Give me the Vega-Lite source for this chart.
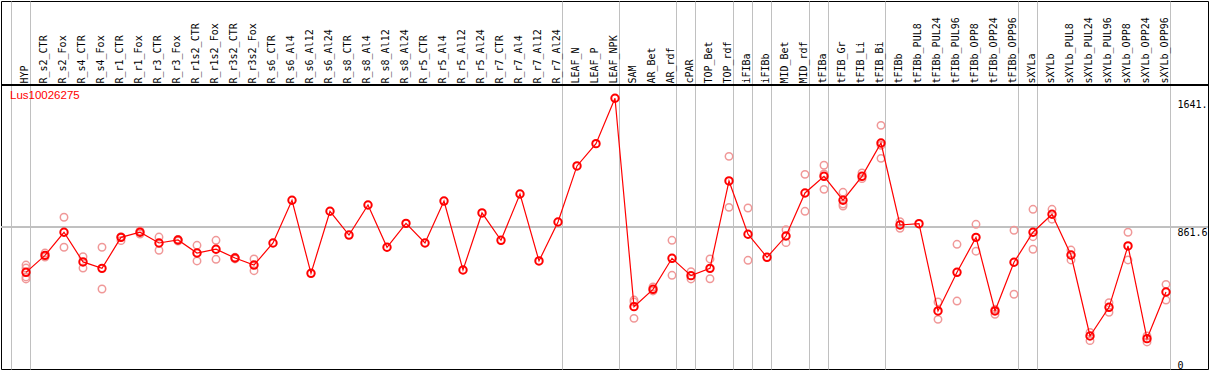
{
  "$schema": "https://vega.github.io/schema/vega-lite/v6.json",
  "width": 1207,
  "height": 368,
  "autosize": "none",
  "padding": {"left": 1, "top": 1, "right": 1, "bottom": 1},
  "background": "white",
  "config": {"view": {"stroke": "black", "strokeWidth": 1}, "font": "DejaVu Sans Mono"},
  "title": {"text": "Lus10026275", "anchor": "start", "frame": "group", "offset": -100, "dx": 9, "color": "#ff0000", "font": "Liberation Sans", "fontSize": 11.5, "fontWeight": "normal"},
  "data": {"values": [
    {"cat": "HYP", "kind": "mean", "value": 586},
    {"cat": "R_s2_CTR", "kind": "mean", "value": 689},
    {"cat": "R_s2_Fox", "kind": "mean", "value": 829},
    {"cat": "R_s4_CTR", "kind": "mean", "value": 649},
    {"cat": "R_s4_Fox", "kind": "mean", "value": 610},
    {"cat": "R_r1_CTR", "kind": "mean", "value": 798},
    {"cat": "R_r1_Fox", "kind": "mean", "value": 829},
    {"cat": "R_r3_CTR", "kind": "mean", "value": 764},
    {"cat": "R_r3_Fox", "kind": "mean", "value": 782},
    {"cat": "R_r1s2_CTR", "kind": "mean", "value": 703},
    {"cat": "R_r1s2_Fox", "kind": "mean", "value": 726},
    {"cat": "R_r3s2_CTR", "kind": "mean", "value": 673},
    {"cat": "R_r3s2_Fox", "kind": "mean", "value": 630},
    {"cat": "R_s6_CTR", "kind": "mean", "value": 764},
    {"cat": "R_s6_Al4", "kind": "mean", "value": 1023},
    {"cat": "R_s6_Al12", "kind": "mean", "value": 580},
    {"cat": "R_s6_Al24", "kind": "mean", "value": 956},
    {"cat": "R_s8_CTR", "kind": "mean", "value": 812},
    {"cat": "R_s8_Al4", "kind": "mean", "value": 994},
    {"cat": "R_s8_Al12", "kind": "mean", "value": 738},
    {"cat": "R_s8_Al24", "kind": "mean", "value": 883},
    {"cat": "R_r5_CTR", "kind": "mean", "value": 764},
    {"cat": "R_r5_Al4", "kind": "mean", "value": 1018},
    {"cat": "R_r5_Al12", "kind": "mean", "value": 600},
    {"cat": "R_r5_Al24", "kind": "mean", "value": 946},
    {"cat": "R_r7_CTR", "kind": "mean", "value": 780},
    {"cat": "R_r7_Al4", "kind": "mean", "value": 1061},
    {"cat": "R_r7_Al12", "kind": "mean", "value": 655},
    {"cat": "R_r7_Al24", "kind": "mean", "value": 891},
    {"cat": "LEAF_N", "kind": "mean", "value": 1231},
    {"cat": "LEAF_P", "kind": "mean", "value": 1366},
    {"cat": "LEAF_NPK", "kind": "mean", "value": 1641},
    {"cat": "SAM", "kind": "mean", "value": 378},
    {"cat": "AR_Bet", "kind": "mean", "value": 483},
    {"cat": "AR_rdf", "kind": "mean", "value": 671},
    {"cat": "cPAR", "kind": "mean", "value": 566},
    {"cat": "TOP_Bet", "kind": "mean", "value": 610},
    {"cat": "TOP_rdf", "kind": "mean", "value": 1140},
    {"cat": "iFIBa", "kind": "mean", "value": 817},
    {"cat": "iFIBb", "kind": "mean", "value": 677},
    {"cat": "MID_Bet", "kind": "mean", "value": 806},
    {"cat": "MID_rdf", "kind": "mean", "value": 1067},
    {"cat": "tFIBa", "kind": "mean", "value": 1168},
    {"cat": "tFIB_Gr", "kind": "mean", "value": 1023},
    {"cat": "tFIB_Li", "kind": "mean", "value": 1168},
    {"cat": "tFIB_Bi", "kind": "mean", "value": 1370},
    {"cat": "tFIBb", "kind": "mean", "value": 873},
    {"cat": "tFIBb_PUL8", "kind": "mean", "value": 881},
    {"cat": "tFIBb_PUL24", "kind": "mean", "value": 352},
    {"cat": "tFIBb_PUL96", "kind": "mean", "value": 586},
    {"cat": "tFIBb_OPP8", "kind": "mean", "value": 798},
    {"cat": "tFIBb_OPP24", "kind": "mean", "value": 352},
    {"cat": "tFIBb_OPP96", "kind": "mean", "value": 647},
    {"cat": "sXYLa", "kind": "mean", "value": 829},
    {"cat": "sXYLb", "kind": "mean", "value": 938},
    {"cat": "sXYLb_PUL8", "kind": "mean", "value": 691},
    {"cat": "sXYLb_PUL24", "kind": "mean", "value": 200},
    {"cat": "sXYLb_PUL96", "kind": "mean", "value": 374},
    {"cat": "sXYLb_OPP8", "kind": "mean", "value": 746},
    {"cat": "sXYLb_OPP24", "kind": "mean", "value": 184},
    {"cat": "sXYLb_OPP96", "kind": "mean", "value": 467},
    {"cat": "HYP", "kind": "rep", "value": 630},
    {"cat": "HYP", "kind": "rep", "value": 612},
    {"cat": "HYP", "kind": "rep", "value": 558},
    {"cat": "HYP", "kind": "rep", "value": 546},
    {"cat": "R_s2_CTR", "kind": "rep", "value": 703},
    {"cat": "R_s2_CTR", "kind": "rep", "value": 679},
    {"cat": "R_s2_Fox", "kind": "rep", "value": 920},
    {"cat": "R_s2_Fox", "kind": "rep", "value": 738},
    {"cat": "R_s4_CTR", "kind": "rep", "value": 681},
    {"cat": "R_s4_CTR", "kind": "rep", "value": 612},
    {"cat": "R_s4_Fox", "kind": "rep", "value": 738},
    {"cat": "R_s4_Fox", "kind": "rep", "value": 485},
    {"cat": "R_r1_CTR", "kind": "rep", "value": 802},
    {"cat": "R_r1_CTR", "kind": "rep", "value": 778},
    {"cat": "R_r1_Fox", "kind": "rep", "value": 837},
    {"cat": "R_r1_Fox", "kind": "rep", "value": 818},
    {"cat": "R_r3_CTR", "kind": "rep", "value": 800},
    {"cat": "R_r3_CTR", "kind": "rep", "value": 720},
    {"cat": "R_r3_Fox", "kind": "rep", "value": 786},
    {"cat": "R_r3_Fox", "kind": "rep", "value": 776},
    {"cat": "R_r1s2_CTR", "kind": "rep", "value": 750},
    {"cat": "R_r1s2_CTR", "kind": "rep", "value": 655},
    {"cat": "R_r1s2_Fox", "kind": "rep", "value": 780},
    {"cat": "R_r1s2_Fox", "kind": "rep", "value": 665},
    {"cat": "R_r3s2_CTR", "kind": "rep", "value": 677},
    {"cat": "R_r3s2_CTR", "kind": "rep", "value": 667},
    {"cat": "R_r3s2_Fox", "kind": "rep", "value": 667},
    {"cat": "R_r3s2_Fox", "kind": "rep", "value": 596},
    {"cat": "SAM", "kind": "rep", "value": 418},
    {"cat": "SAM", "kind": "rep", "value": 406},
    {"cat": "SAM", "kind": "rep", "value": 307},
    {"cat": "AR_Bet", "kind": "rep", "value": 497},
    {"cat": "AR_Bet", "kind": "rep", "value": 473},
    {"cat": "AR_rdf", "kind": "rep", "value": 780},
    {"cat": "AR_rdf", "kind": "rep", "value": 568},
    {"cat": "cPAR", "kind": "rep", "value": 590},
    {"cat": "cPAR", "kind": "rep", "value": 546},
    {"cat": "TOP_Bet", "kind": "rep", "value": 667},
    {"cat": "TOP_Bet", "kind": "rep", "value": 547},
    {"cat": "TOP_rdf", "kind": "rep", "value": 1289},
    {"cat": "TOP_rdf", "kind": "rep", "value": 980},
    {"cat": "iFIBa", "kind": "rep", "value": 976},
    {"cat": "iFIBa", "kind": "rep", "value": 659},
    {"cat": "MID_Bet", "kind": "rep", "value": 844},
    {"cat": "MID_Bet", "kind": "rep", "value": 766},
    {"cat": "MID_rdf", "kind": "rep", "value": 1180},
    {"cat": "MID_rdf", "kind": "rep", "value": 956},
    {"cat": "tFIBa", "kind": "rep", "value": 1235},
    {"cat": "tFIBa", "kind": "rep", "value": 1182},
    {"cat": "tFIBa", "kind": "rep", "value": 1089},
    {"cat": "tFIB_Gr", "kind": "rep", "value": 1071},
    {"cat": "tFIB_Gr", "kind": "rep", "value": 1000},
    {"cat": "tFIB_Gr", "kind": "rep", "value": 988},
    {"cat": "tFIB_Li", "kind": "rep", "value": 1188},
    {"cat": "tFIB_Li", "kind": "rep", "value": 1154},
    {"cat": "tFIB_Bi", "kind": "rep", "value": 1477},
    {"cat": "tFIB_Bi", "kind": "rep", "value": 1356},
    {"cat": "tFIB_Bi", "kind": "rep", "value": 1277},
    {"cat": "tFIBb", "kind": "rep", "value": 893},
    {"cat": "tFIBb", "kind": "rep", "value": 853},
    {"cat": "tFIBb_PUL24", "kind": "rep", "value": 406},
    {"cat": "tFIBb_PUL24", "kind": "rep", "value": 301},
    {"cat": "tFIBb_PUL96", "kind": "rep", "value": 756},
    {"cat": "tFIBb_PUL96", "kind": "rep", "value": 412},
    {"cat": "tFIBb_OPP8", "kind": "rep", "value": 877},
    {"cat": "tFIBb_OPP8", "kind": "rep", "value": 714},
    {"cat": "tFIBb_OPP24", "kind": "rep", "value": 362},
    {"cat": "tFIBb_OPP24", "kind": "rep", "value": 332},
    {"cat": "tFIBb_OPP96", "kind": "rep", "value": 841},
    {"cat": "tFIBb_OPP96", "kind": "rep", "value": 453},
    {"cat": "sXYLa", "kind": "rep", "value": 968},
    {"cat": "sXYLa", "kind": "rep", "value": 802},
    {"cat": "sXYLa", "kind": "rep", "value": 726},
    {"cat": "sXYLb", "kind": "rep", "value": 968},
    {"cat": "sXYLb", "kind": "rep", "value": 908},
    {"cat": "sXYLb_PUL8", "kind": "rep", "value": 721},
    {"cat": "sXYLb_PUL8", "kind": "rep", "value": 661},
    {"cat": "sXYLb_PUL24", "kind": "rep", "value": 222},
    {"cat": "sXYLb_PUL24", "kind": "rep", "value": 172},
    {"cat": "sXYLb_PUL96", "kind": "rep", "value": 402},
    {"cat": "sXYLb_PUL96", "kind": "rep", "value": 344},
    {"cat": "sXYLb_OPP8", "kind": "rep", "value": 829},
    {"cat": "sXYLb_OPP8", "kind": "rep", "value": 661},
    {"cat": "sXYLb_OPP24", "kind": "rep", "value": 200},
    {"cat": "sXYLb_OPP24", "kind": "rep", "value": 164},
    {"cat": "sXYLb_OPP96", "kind": "rep", "value": 513},
    {"cat": "sXYLb_OPP96", "kind": "rep", "value": 418}
  ]},
  "layer": [
    {
      "mark": {"type": "rule", "color": "#c0c0c0", "strokeWidth": 1},
      "encoding": {"y": {"datum": 861.6, "type": "quantitative", "axis": null}}
    },
    {
      "mark": {"type": "rule", "color": "black", "strokeWidth": 1},
      "encoding": {"y": {"datum": 1721.6, "type": "quantitative", "axis": null}}
    },
    {
      "transform": [{"filter": "datum.kind == 'rep'"}],
      "mark": {"type": "point", "shape": "circle", "filled": false, "color": "#f09898", "size": 55, "strokeWidth": 1.5, "opacity": 1},
      "encoding": {
        "x": {
          "field": "cat", "type": "nominal",
          "scale": {
            "type": "band", "paddingInner": 0, "paddingOuter": 0, "rangeMin": 15.5, "rangeMax": 1174.5,
            "domain": ["HYP", "R_s2_CTR", "R_s2_Fox", "R_s4_CTR", "R_s4_Fox", "R_r1_CTR", "R_r1_Fox", "R_r3_CTR", "R_r3_Fox", "R_r1s2_CTR", "R_r1s2_Fox", "R_r3s2_CTR", "R_r3s2_Fox", "R_s6_CTR", "R_s6_Al4", "R_s6_Al12", "R_s6_Al24", "R_s8_CTR", "R_s8_Al4", "R_s8_Al12", "R_s8_Al24", "R_r5_CTR", "R_r5_Al4", "R_r5_Al12", "R_r5_Al24", "R_r7_CTR", "R_r7_Al4", "R_r7_Al12", "R_r7_Al24", "LEAF_N", "LEAF_P", "LEAF_NPK", "SAM", "AR_Bet", "AR_rdf", "cPAR", "TOP_Bet", "TOP_rdf", "iFIBa", "iFIBb", "MID_Bet", "MID_rdf", "tFIBa", "tFIB_Gr", "tFIB_Li", "tFIB_Bi", "tFIBb", "tFIBb_PUL8", "tFIBb_PUL24", "tFIBb_PUL96", "tFIBb_OPP8", "tFIBb_OPP24", "tFIBb_OPP96", "sXYLa", "sXYLb", "sXYLb_PUL8", "sXYLb_PUL24", "sXYLb_PUL96", "sXYLb_OPP8", "sXYLb_OPP24", "sXYLb_OPP96"]
          },
          "axis": {
            "orient": "bottom", "values": ["HYP", "R_r7_Al24", "LEAF_NPK", "AR_rdf", "cPAR", "TOP_rdf", "iFIBa", "iFIBb", "MID_rdf", "tFIBa", "tFIB_Bi", "tFIBb_OPP96", "sXYLa", "sXYLb_OPP96"],
            "bandPosition": 0.737, "grid": true, "gridColor": "#c0c0c0", "gridWidth": 1, "gridOpacity": 1,
            "labels": false, "ticks": false, "domain": false, "title": null
          }
        },
        "y": {
          "field": "value", "type": "quantitative",
          "scale": {"domain": [0, 2230.8], "nice": false, "zero": false},
          "axis": null
        }
      }
    },
    {
      "transform": [{"filter": "datum.kind == 'mean'"}],
      "mark": {"type": "line", "color": "#ff0000", "strokeWidth": 1.2},
      "encoding": {
        "x": {
          "field": "cat", "type": "nominal",
          "axis": {
            "orient": "top", "offset": -84, "labelAngle": -90, "grid": false, "ticks": false,
            "domain": false, "title": null,
            "labelFont": "DejaVu Sans Mono", "labelFontSize": 10, "labelColor": "black",
            "labelPadding": 2, "labelOverlap": false, "labelFlush": false, "labelOffset": -1
          }
        },
        "y": {
          "field": "value", "type": "quantitative",
          "axis": {
            "orient": "right", "offset": -38, "values": [0, 861.6, 1641],
            "labelExpr": "datum.value == 1641 ? '1641.' : (datum.value == 0 ? '0' : '861.6')",
            "grid": false, "ticks": false, "domain": false, "title": null,
            "labelAlign": "left",
            "labelBaseline": {"condition": {"test": "datum.value == 0", "value": "bottom"}, "value": "top"},
            "labelPadding": 7, "labelFont": "DejaVu Sans Mono", "labelFontSize": 10, "labelColor": "black", "labelFlush": false, "labelOffset": 1
          }
        },
        "order": {"value": null}
      }
    },
    {
      "transform": [{"filter": "datum.kind == 'mean'"}],
      "mark": {"type": "point", "shape": "circle", "filled": false, "color": "#ff0000", "size": 55, "strokeWidth": 2, "opacity": 1},
      "encoding": {
        "x": {
          "field": "cat", "type": "nominal",
          "axis": {
            "orient": "bottom", "values": ["HYP"], "bandPosition": -0.289,
            "grid": true, "gridColor": "#c0c0c0", "gridWidth": 1, "gridOpacity": 1,
            "labels": false, "ticks": false, "domain": false, "title": null
          }
        },
        "y": {"field": "value", "type": "quantitative", "axis": null}
      }
    }
  ],
  "resolve": {"axis": {"x": "independent", "y": "independent"}}
}
